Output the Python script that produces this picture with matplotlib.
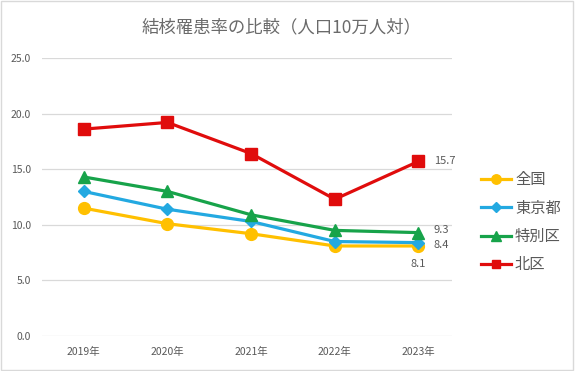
import matplotlib.pyplot as plt
from matplotlib.patches import Rectangle

plt.rcParams['font.family'] = ['Noto Sans CJK JP', 'DejaVu Sans']

years = ['2019年', '2020年', '2021年', '2022年', '2023年']
zenkoku = [11.5, 10.1, 9.2, 8.1, 8.1]
tokyo = [13.0, 11.4, 10.3, 8.5, 8.4]
tokubetsu = [14.3, 13.0, 10.9, 9.5, 9.3]
kita = [18.6, 19.2, 16.4, 12.3, 15.7]

series = [
    ('全国', zenkoku, '#FFC000', 'o', 8.5),
    ('東京都', tokyo, '#23A9E1', 'D', 6.5),
    ('特別区', tokubetsu, '#17A34A', '^', 8.5),
    ('北区', kita, '#E00C0C', 's', 8),
]

fig = plt.figure(figsize=(5.75, 3.71), dpi=100)
ax = fig.add_axes([0.073, 0.094, 0.713, 0.75])

x = list(range(len(years)))
for name, vals, color, marker, ms in series:
    ax.plot(x, vals, color=color, lw=2.3, marker=marker, ms=ms, label=name, zorder=3)

# data labels for the last year
gray = '#595959'
ax.annotate('15.7', (4, kita[-1]), xytext=(11, 0), textcoords='offset points',
            va='center', ha='left', fontsize=8, color=gray)
ax.annotate('9.3', (4, tokubetsu[-1]), xytext=(11, 2), textcoords='offset points',
            va='center', ha='left', fontsize=8, color=gray)
ax.annotate('8.4', (4, tokyo[-1]), xytext=(11, -2), textcoords='offset points',
            va='center', ha='left', fontsize=8, color=gray)
ax.annotate('8.1', (4, zenkoku[-1]), xytext=(0, -13), textcoords='offset points',
            va='center', ha='center', fontsize=8, color=gray)

ax.set_xlim(-0.5, 4.4)
ax.set_ylim(0, 25)
ax.set_yticks([0, 5, 10, 15, 20, 25])
ax.set_yticklabels(['0.0', '5.0', '10.0', '15.0', '20.0', '25.0'])
ax.set_xticks(x)
ax.set_xticklabels(years)
ax.tick_params(length=0, colors=gray, labelsize=7.5, pad=8)
ax.grid(axis='y', color='#D9D9D9', lw=0.9)
ax.set_axisbelow(True)
for s in ax.spines.values():
    s.set_visible(False)

fig.text(0.49, 0.927, '結核罹患率の比較（人口10万人対）', ha='center', va='center',
         fontsize=12.5, color='#6a6a6a')

leg = ax.legend(loc='upper left', bbox_to_anchor=(1.055, 0.615), frameon=False,
                fontsize=11, labelspacing=0.75, handlelength=2.0, markerscale=0.8,
                handletextpad=0.25, borderaxespad=0)
for t in leg.get_texts():
    t.set_color(gray)

fig.patches.append(Rectangle((0.002, 0.003), 0.995, 0.994, transform=fig.transFigure,
                             fill=False, edgecolor='#D9D9D9', lw=1))

fig.savefig('out.png', dpi=100)
